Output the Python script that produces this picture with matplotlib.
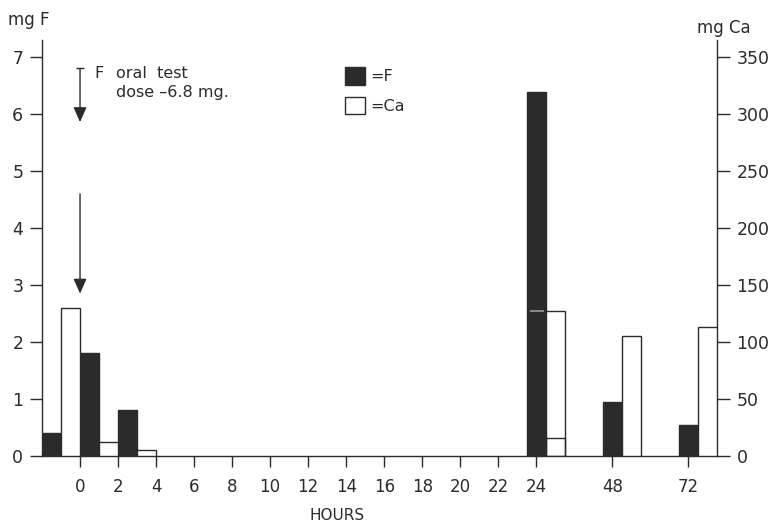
import matplotlib
matplotlib.use("Agg")
import matplotlib.pyplot as plt
from matplotlib.patches import Patch

# collection periods (start hour) and measured amounts
periods = [-2, 0, 2, 24, 48, 72]
f_mg = [0.40, 1.8, 0.81, 6.38, 0.95, 0.55]
ca_mg = [130, 12, 5, 127, 105, 113]
ca_inner_24 = 16          # second, smaller Ca box drawn inside the 24 h bar
dose_mg = 6.8

hour_ticks = [0, 2, 4, 6, 8, 10, 12, 14, 16, 18, 20, 22, 24, 48, 72]
f_ticks = [0, 1, 2, 3, 4, 5, 6, 7]
ca_ticks = [0, 50, 100, 150, 200, 250, 300, 350]

INK = "#2b2b2b"
plt.rcParams["font.family"] = ["DejaVu Sans"]


def hour_pos(h):
    # 0..24 h are spaced every 2 h, then 48 and 72 follow at two slots each
    if h <= 24:
        return h / 2
    return 12 + (h - 24) / 12


def group_left(h):
    # first day: bars fill the 2 h interval; later: F bar centred on the tick
    if h < 24:
        return hour_pos(h)
    return hour_pos(h) - 0.25


fig = plt.figure(figsize=(7.81, 5.24), dpi=100)
ax = fig.add_axes([42 / 781, 68 / 524, 675 / 781, 416 / 524])
ax2 = ax.twinx()

w = 0.5
lefts = [group_left(h) for h in periods]
ax.bar(lefts, f_mg, width=w, align="edge", color=INK, edgecolor=INK,
       linewidth=1.0, zorder=3)
ax2.bar([l + w for l in lefts], ca_mg, width=w, align="edge", color="white",
        edgecolor=INK, linewidth=1.0, zorder=3)

i24 = periods.index(24)
ax2.bar(lefts[i24] + w, ca_inner_24, width=w, align="edge", color="none",
        edgecolor=INK, linewidth=1.0, zorder=4)
ax2.hlines(ca_mg[i24], lefts[i24] + 0.08, lefts[i24] + w - 0.05,
           color="#9a9a9a", linewidth=1.2, zorder=5)

ax.set_xlim(-1, 16.75)
ax.set_ylim(0, 7.3)
ax2.set_ylim(0, 7.3 * 50)

ax.set_xticks([hour_pos(h) for h in hour_ticks])
ax.set_xticklabels([str(h) for h in hour_ticks])
ax.set_yticks(f_ticks)
ax.set_yticklabels([str(v) for v in f_ticks])
ax2.set_yticks(ca_ticks)
ax2.set_yticklabels([str(v) for v in ca_ticks])

for a in (ax, ax2):
    a.spines["top"].set_visible(False)
    for s in a.spines.values():
        s.set_color(INK)
        s.set_linewidth(1.0)
ax.spines["right"].set_visible(False)
ax2.spines["left"].set_visible(False)
ax2.spines["bottom"].set_visible(False)

ax.tick_params(axis="x", direction="out", length=8, width=1.0, pad=8,
               labelsize=12, colors=INK)
ax.tick_params(axis="y", direction="out", length=8.5, width=1.0, pad=5,
               labelsize=12.5, colors=INK)
ax2.tick_params(axis="y", direction="out", length=9, width=1.0, pad=5,
                labelsize=12.5, colors=INK)

# dose arrows
ax.annotate("", xy=(0, 5.86), xytext=(0, dose_mg),
            arrowprops=dict(arrowstyle="-|>,head_length=0.9,head_width=0.4",
                            color=INK, lw=1.0, shrinkA=0, shrinkB=0))
ax.hlines(dose_mg, -0.1, 0.1, color=INK, linewidth=1.0)
ax.annotate("", xy=(0, 2.85), xytext=(0, 4.6),
            arrowprops=dict(arrowstyle="-|>,head_length=0.9,head_width=0.4",
                            color=INK, lw=1.0, shrinkA=0, shrinkB=0))
ax.text(0.39, 6.72, "F", fontsize=11.5, color=INK, va="center", ha="left")
ax.text(0.95, 6.72, "oral  test", fontsize=11.5, color=INK, va="center", ha="left")
ax.text(0.95, 6.37, f"dose \u2013{dose_mg} mg.", fontsize=11.5, color=INK,
        va="center", ha="left")

handles = [Patch(facecolor=INK, edgecolor=INK, linewidth=1.0),
           Patch(facecolor="white", edgecolor=INK, linewidth=1.0)]
fig.legend(handles, ["=F", "=Ca"], loc="upper left",
           bbox_to_anchor=(334 / 781, 1 - 56 / 524), frameon=False,
           handlelength=1.25, handleheight=1.3, handletextpad=0.3,
           labelspacing=0.75, fontsize=11.5, labelcolor=INK, borderpad=0.2)

fig.text(8 / 781, 1 - 20 / 524, "mg F", fontsize=12, color=INK, va="center", ha="left")
fig.text(697 / 781, 1 - 28 / 524, "mg Ca", fontsize=12, color=INK, va="center", ha="left")
fig.text(337 / 781, 1 - 515 / 524, "HOURS", fontsize=11, color=INK, va="center", ha="center")

fig.savefig("out.png", dpi=100)
